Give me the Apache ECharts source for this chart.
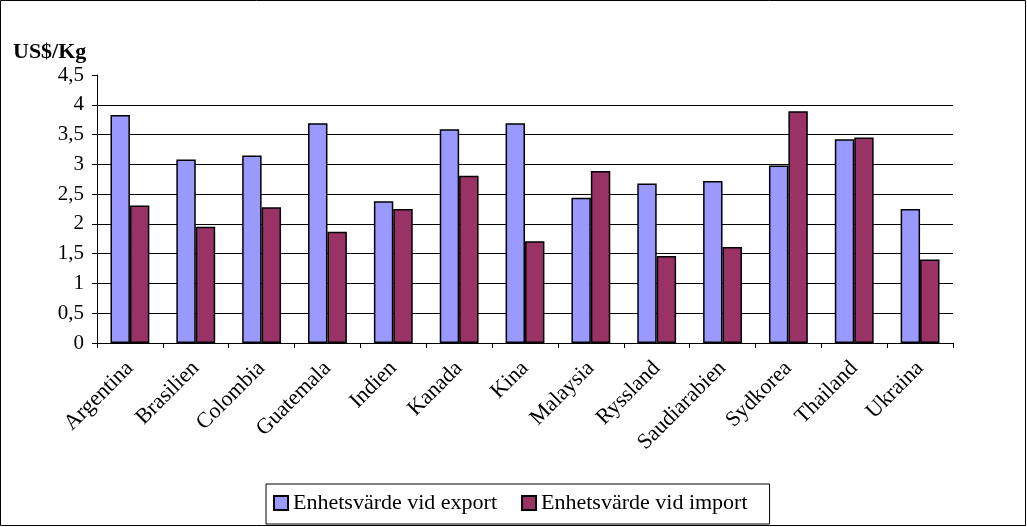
<!DOCTYPE html>
<html>
<head>
<meta charset="utf-8">
<script src="https://cdn.jsdelivr.net/npm/echarts@6/dist/echarts.min.js"></script>
<style>
html,body{margin:0;padding:0;background:#fff;}
#chart{width:1027px;height:527px;}
</style>
</head>
<body>
<div id="chart"></div>
<script>
const categories = ['Argentina','Brasilien','Colombia','Guatemala','Indien','Kanada','Kina','Malaysia','Ryssland','Saudiarabien','Sydkorea','Thailand','Ukraina'];
const exportValues = [3.83, 3.08, 3.15, 3.69, 2.38, 3.59, 3.69, 2.44, 2.68, 2.72, 2.98, 3.42, 2.25];
const importValues = [2.31, 1.95, 2.28, 1.87, 2.25, 2.81, 1.71, 2.89, 1.46, 1.61, 3.89, 3.45, 1.40];
const seriesNames = ['Enhetsvärde vid export', 'Enhetsvärde vid import'];
const yAxisTitle = 'US$/Kg';

const FONT = '"Liberation Serif", "Times New Roman", serif';
const chart = echarts.init(document.getElementById('chart'));
chart.setOption({
  animation: false,
  backgroundColor: '#fff',
  graphic: [
    { type: 'rect', shape: { x: 0.5, y: 0.5, width: 1025, height: 525 }, style: { fill: 'none', stroke: '#000', lineWidth: 1 }, z: -1 },
    { type: 'text', left: 13, top: 41, style: { text: yAxisTitle, font: 'bold 22px ' + FONT, fill: '#000' } }
  ],
  grid: { left: 97, right: 74, top: 75, bottom: 184 },
  legend: {
    data: seriesNames,
    left: 266, top: 484,
    orient: 'horizontal',
    icon: 'rect',
    itemWidth: 14, itemHeight: 14, itemGap: 24,
    padding: [8, 22, 10, 7],
    borderColor: '#000', borderWidth: 1,
    textStyle: { fontFamily: FONT, fontSize: 22, color: '#000' }
  },
  xAxis: {
    type: 'category',
    data: categories,
    axisLine: { lineStyle: { color: '#000', width: 1 } },
    axisTick: { show: true, length: 5, lineStyle: { color: '#000' } },
    axisLabel: { rotate: 45, margin: 22, fontFamily: FONT, fontSize: 22, color: '#000' }
  },
  yAxis: {
    type: 'value',
    min: 0, max: 4.5, interval: 0.5,
    axisLine: { show: true, lineStyle: { color: '#000', width: 1 } },
    axisTick: { show: true, length: 5, lineStyle: { color: '#000' } },
    splitLine: { show: true, showMaxLine: false, lineStyle: { color: '#000', width: 1 } },
    axisLabel: { margin: 13, fontFamily: FONT, fontSize: 21, color: '#000',
      formatter: v => String(v).replace('.', ',') }
  },
  series: [
    { name: seriesNames[0], type: 'bar', data: exportValues, barGap: '0%', barCategoryGap: '41%',
      itemStyle: { color: '#9999FF', borderColor: '#000', borderWidth: 1.5 } },
    { name: seriesNames[1], type: 'bar', data: importValues,
      itemStyle: { color: '#993366', borderColor: '#000', borderWidth: 1.5 } }
  ]
});
</script>
</body>
</html>
